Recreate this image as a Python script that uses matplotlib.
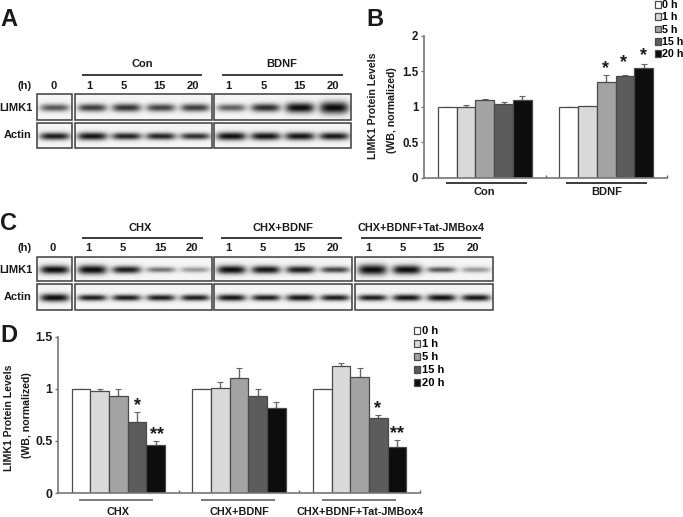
import numpy as np
import matplotlib
matplotlib.use("Agg")
import matplotlib.pyplot as plt
from matplotlib.patches import Rectangle

plt.rcParams['font.family'] = ['Liberation Sans', 'DejaVu Sans']
plt.rcParams['font.weight'] = 'bold'

W, H = 683, 517

hours = ["0 h", "1 h", "5 h", "15 h", "20 h"]
bar_colors = ["#ffffff", "#d9d9d9", "#a3a3a3", "#5c5c5c", "#0d0d0d"]
lane_labels = ["1", "5", "15", "20"]

# panel B
b_groups = ["Con", "BDNF"]
b_values = [[1, 1, 1.10, 1.04, 1.09], [1, 1.01, 1.35, 1.43, 1.55]]
b_errors = [[0, 0.03, 0.01, 0.03, 0.06], [0, 0, 0.10, 0.02, 0.06]]

# panel D
d_groups = ["CHX", "CHX+BDNF", "CHX+BDNF+Tat-JMBox4"]
d_values = [[1, 0.98, 0.93, 0.68, 0.46], [1, 1.01, 1.10, 0.93, 0.82], [1, 1.22, 1.11, 0.72, 0.44]]
d_errors = [[0, 0.015, 0.07, 0.095, 0.04], [0, 0.055, 0.10, 0.07, 0.05], [0, 0.03, 0.09, 0.025, 0.07]]

# blot band strength, 0 to 1, one number per lane
a_limk1 = [[0.62], [0.72, 0.76, 0.70, 0.72], [0.58, 0.78, 0.92, 1.0]]
a_actin = [[0.85], [0.88, 0.82, 0.82, 0.78], [0.90, 0.88, 0.88, 0.86]]
c_limk1 = [[0.92], [0.95, 0.85, 0.50, 0.36], [0.92, 0.88, 0.85, 0.70], [1.0, 0.95, 0.62, 0.36]]
c_actin = [[0.95], [0.85, 0.85, 0.85, 0.85], [0.88, 0.85, 0.88, 0.85], [0.85, 0.88, 0.90, 0.88]]

fig = plt.figure(figsize=(W / 100, H / 100), dpi=100)

# whole figure axes in pixels, for the blots and loose text
bg = fig.add_axes([0, 0, 1, 1])
bg.set_axis_off()


def strip(x0, x1, y0, y1, levels, band_w, thick):
    n = len(levels)
    xx = np.arange(x0, x1, 0.5)
    yy = np.arange(y0, y1, 0.5)
    X, Y = np.meshgrid(xx, yy)
    img = np.ones(X.shape)
    step = (x1 - x0) / n
    yc = (y0 + y1) / 2 + 0.5
    for i, lev in enumerate(levels):
        xc = x0 + step * (i + 0.5)
        sy = thick + 2.4 * lev ** 6
        px = np.exp(-(np.abs(X - xc) / (band_w / 2)) ** 4)
        py = np.exp(-((Y - yc) / sy) ** 2)
        img *= 1 - min(lev * 1.05, 0.96) * px * py
    img = 0.96 * img
    bg.imshow(img, cmap="gray", vmin=0, vmax=1, extent=(x0, x1, y1, y0),
              aspect="auto", interpolation="bilinear", zorder=1)
    bg.add_patch(Rectangle((x0, y0), x1 - x0, y1 - y0, fill=False, ec="#3c3c3c", lw=1.1, zorder=2))


box_a = [(37, 72), (75, 212), (214, 351)]
for (x0, x1), lims, acts in zip(box_a, a_limk1, a_actin):
    strip(x0, x1, 94, 120, lims, 29, 3.6)
    strip(x0, x1, 123, 148, acts, 30, 2.8)

box_c = [(37, 72), (75, 212), (214, 352), (355, 493)]
for (x0, x1), lims, acts in zip(box_c, c_limk1, c_actin):
    strip(x0, x1, 257, 281, lims, 29, 2.8)
    strip(x0, x1, 284, 310, acts, 29, 2.2)

bg.set_xlim(0, W)
bg.set_ylim(H, 0)


def label(x, y, s, size=8, ha="center"):
    bg.text(x, y, s, fontsize=size, ha=ha, va="center", color="#1a1a1a", zorder=3)


def rule(x0, x1, y):
    bg.plot([x0, x1], [y, y], color="#1a1a1a", lw=1.2, solid_capstyle="butt", zorder=3)


label(0, 19, "A", 17, "left")
label(366, 20, "B", 17, "left")
label(0, 223, "C", 17, "left")
label(0, 336, "D", 17, "left")

# panel A text
label(32, 86, "(h)", 8, "right")
label(54, 86, "0")
for x, s in zip([89, 124, 159, 193, 228, 264, 299, 333], lane_labels * 2):
    label(x, 86, s)
label(142, 64, "Con")
label(282, 64, "BDNF")
rule(82, 202, 75)
rule(222, 343, 75)
label(32, 108, "LIMK1", 8, "right")
label(32, 135, "Actin", 8, "right")

# panel C text
label(32, 248, "(h)", 8, "right")
label(53, 248, "0")
for x, s in zip([88, 123, 160, 192, 228, 263, 299, 333, 368, 403, 438, 473], lane_labels * 3):
    label(x, 248, s)
label(140, 228, "CHX")
label(283, 228, "CHX+BDNF")
label(421, 228, "CHX+BDNF+Tat-JMBox4", 7.8)
rule(82, 203, 238)
rule(221, 342, 238)
rule(361, 481, 238)
label(32, 270, "LIMK1", 8, "right")
label(32, 297, "Actin", 8, "right")


def bar_panel(left, right, top, bottom, ymax, yticks, groups, values, errors, pad, tick_size, group_size):
    ax = fig.add_axes([left / W, 1 - bottom / H, (right - left) / W, (bottom - top) / H])
    ax.patch.set_alpha(0)
    width = 0.155
    handles = []
    for j in range(5):
        xs = [g + 0.5 + (j - 2) * width for g in range(len(groups))]
        vals = [v[j] for v in values]
        errs = [e[j] for e in errors]
        h = ax.bar(xs, vals, width, color=bar_colors[j], edgecolor="#4a4a4a", lw=0.9, label=hours[j], zorder=2)
        ax.errorbar(xs, vals, yerr=[np.zeros(len(errs)), errs], fmt="none", ecolor="#666666",
                    elinewidth=1, capsize=2, capthick=0.8, zorder=1)
        handles.append(h)
    ax.set_xlim(0, len(groups))
    ax.set_ylim(0, ymax)
    ax.set_yticks(yticks)
    ax.set_yticklabels([f"{t:g}" for t in yticks], fontsize=tick_size, color="#1a1a1a")
    ax.tick_params(axis="y", length=2.5, width=1, color="#777777", pad=1.5)
    ax.set_xticks(range(1, len(groups) + 1))
    ax.set_xticklabels([])
    ax.tick_params(axis="x", which="major", direction="in", length=2.5, width=1, color="#666666")
    ax.set_xticks([g + 0.5 for g in range(len(groups))], minor=True)
    ax.set_xticklabels(groups, minor=True, fontsize=group_size, color="#1a1a1a")
    ax.tick_params(axis="x", which="minor", length=0, pad=pad)
    for s in ["top", "right"]:
        ax.spines[s].set_visible(False)
    for s in ["left", "bottom"]:
        ax.spines[s].set_color("#777777")
        ax.spines[s].set_linewidth(1.2)
    return ax, handles


axb, hb = bar_panel(424, 667, 36, 177.5, 2, [0, 0.5, 1, 1.5, 2], b_groups, b_values, b_errors, 7, 8.3, 8)
axd, hd = bar_panel(58, 420, 336.7, 493, 1.5, [0, 0.5, 1, 1.5], d_groups, d_values, d_errors, 10, 8.8, 7.8)

for x0, x1 in [(446, 527), (566, 647)]:
    rule(x0, x1, 183)
for x0, x1 in [(79, 153), (201, 275), (322, 396)]:
    bg.plot([x0, x1], [500, 500], color="#555555", lw=1.1, solid_capstyle="butt", zorder=3)

# y labels
for x, y, s in [(373, 105.5, "LIMK1 Protein Levels"), (392, 110, "(WB, normalized)"),
                (9, 418, "LIMK1 Protein Levels"), (27, 415, "(WB, normalized)")]:
    bg.text(x, y, s, fontsize=7.6, rotation=90, ha="center", va="center", color="#1a1a1a")

# significance stars
for x, y, s in [(606, 69, "*"), (624, 63, "*"), (644, 56, "*"),
                (138, 406, "*"), (157, 435, "**"), (378, 409, "*"), (397, 434, "**")]:
    bg.text(x, y, s, fontsize=13, ha="center", va="center", color="#1a1a1a", zorder=5)

# legends
fig.legend(hb, hours, loc="upper left", bbox_to_anchor=(655 / W, 1), frameon=False, fontsize=7.7,
           handlelength=0.55, handleheight=0.6, handletextpad=0.15, labelspacing=0.22, borderpad=0, borderaxespad=0)
fig.legend(hd, hours, loc="upper left", bbox_to_anchor=(414 / W, 1 - 326 / H), frameon=False, fontsize=8,
           handlelength=0.5, handleheight=0.6, handletextpad=0.25, labelspacing=0.27, borderpad=0, borderaxespad=0)

fig.savefig("out.png", dpi=100)
plt.close(fig)
